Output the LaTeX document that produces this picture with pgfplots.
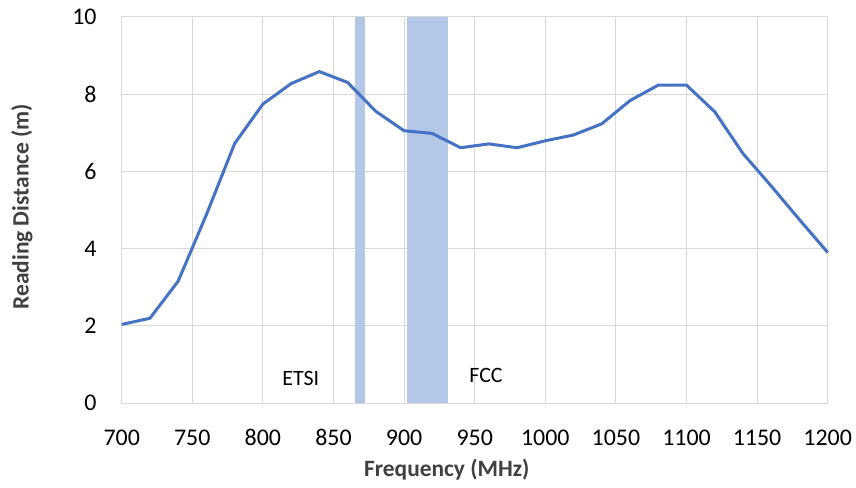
\documentclass[border=0pt]{standalone}
\usepackage{pgfplots}
\pgfplotsset{compat=1.18}
\usepackage{fontspec}
\setmainfont{Carlito}
\definecolor{linec}{HTML}{4472C4}
\definecolor{bandc}{HTML}{B4C7E7}
\definecolor{gridc}{HTML}{D9D9D9}
\definecolor{labc}{HTML}{404040}
\begin{document}
\begin{tikzpicture}
\begin{axis}[
  scale only axis,
  width=706bp, height=386.6bp,
  xmin=700, xmax=1200, ymin=0, ymax=10,
  xtick={700,750,...,1200}, ytick={0,2,...,10},
  grid=major,
  major grid style={gridc, line width=1bp},
  axis line style={gridc, line width=1bp},
  major tick length=0pt,
  /pgf/number format/assume math mode=true,
  /pgf/number format/1000 sep={},
  tick label style={font=\fontsize{24}{28}\selectfont, text=black},
  xticklabel style={anchor=base, inner sep=0pt, yshift=-41.7bp},
  yticklabel style={anchor=east, inner sep=0pt, xshift=-25bp},
  label style={font=\fontsize{23.5}{28}\selectfont\bfseries, text=labc},
  xlabel={Frequency (MHz)},
  ylabel={Reading Distance (m)},
  xlabel style={at={(axis description cs:0.4605,-0.19)}, anchor=base, inner sep=0pt},
  ylabel style={at={(axis description cs:-0.1412,0.5085)}, anchor=center, rotate=0, inner sep=0pt},
  clip=false,
]
\addplot[fill=bandc, draw=none] coordinates {(865,0) (865,10) (872.5,10) (872.5,0)} -- cycle;
\addplot[fill=bandc, draw=none] coordinates {(902,0) (902,10) (931,10) (931,0)} -- cycle;
\addplot[linec, line width=3bp, line join=round] coordinates {
(700,2.04) (720,2.20) (740,3.16) (760,4.88) (780,6.72) (800,7.74) (820,8.27)
(840,8.58) (860,8.30) (880,7.55) (900,7.05) (920,6.98) (940,6.61) (960,6.71)
(980,6.61) (1000,6.79) (1020,6.94) (1040,7.23) (1060,7.83) (1080,8.23)
(1100,8.23) (1120,7.54) (1140,6.46) (1160,5.62) (1180,4.75) (1200,3.90)
};
\node[anchor=base, font=\fontsize{22}{26}\selectfont, inner sep=0pt] at (axis cs:826.8,0.473) {ETSI};
\node[anchor=base, font=\fontsize{22}{26}\selectfont, inner sep=0pt] at (axis cs:958,0.533) {FCC};
\end{axis}
\pgfresetboundingbox
\path ([xshift=-121.7bp,yshift=-83.7bp]current axis.south west) rectangle ([xshift=28.3bp,yshift=16.7bp]current axis.north east);
\end{tikzpicture}
\end{document}
